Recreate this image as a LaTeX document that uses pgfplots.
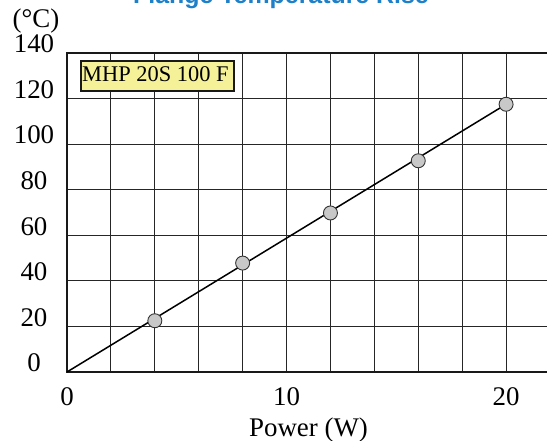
\documentclass[border=0pt]{standalone}
\usepackage{pgfplots}
\pgfplotsset{compat=1.18}
\usepackage{fontspec}
\setmainfont{Liberation Serif}
\newfontfamily\titlefont{Liberation Sans}
\definecolor{titleblue}{RGB}{30,128,200}
\definecolor{boxyellow}{RGB}{244,241,153}
\definecolor{markgray}{RGB}{200,200,200}
\begin{document}
\begin{tikzpicture}[x=1bp,y=1bp]
\begin{axis}[
  at={(67bp,69bp)}, anchor=south west,
  scale only axis, width=483bp, height=319bp,
  xmin=0, xmax=22, ymin=0, ymax=140,
  xtick={0,10,20}, minor xtick={2,4,...,22},
  ytick={0,20,...,140},
  grid=both,
  major grid style={black!85, line width=0.9bp},
  minor grid style={black!85, line width=0.9bp},
  axis line style={line width=2.6bp, black!90},
  major tick length=0pt, minor tick length=0pt,
  tick style={draw=none},
  ticklabel style={font=\fontsize{27}{32}\selectfont},
  /pgf/number format/assume math mode=true,
  yticklabel style={anchor=center, xshift=-33bp, yshift=9bp},
  xticklabel style={anchor=center, yshift=-25bp},
  xlabel={Power (W)},
  xlabel style={font=\fontsize{27}{32}\selectfont, at={(axis description cs:0.5,0)}, anchor=center, yshift=-58bp},
  clip=false,
]
\addplot[black, line width=1.5bp] coordinates {(0,0) (20,117.5)};
\addplot[only marks, mark=*, mark size=7bp, mark options={fill=markgray, draw=black!80, line width=0.9bp}] coordinates {
(4,22.5) (8,47.8) (12,69.8) (16,92.7) (20,117.5)};
\end{axis}
\node[font=\fontsize{27}{32}\selectfont] at (36bp,420bp) {(°C)};
\node[anchor=base, font=\titlefont\bfseries\fontsize{25}{30}\selectfont, text=titleblue] at (281bp,437bp) {Flange Temperature Rise};
\draw[black!90, line width=1.6bp, fill=boxyellow] (81bp,350bp) rectangle (234bp,380bp);
\node[anchor=base west, inner sep=0pt, font=\fontsize{22.5}{26}\selectfont] at (82bp,359bp) {MHP 20S 100 F};
\pgfresetboundingbox
\useasboundingbox (0,0) rectangle (547bp,441bp);
\end{tikzpicture}
\end{document}
